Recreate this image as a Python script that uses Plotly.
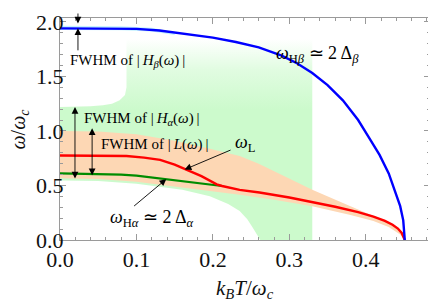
import plotly.graph_objects as go

# ---------------- data ----------------
T_blue = [0, 0.05, 0.1, 0.13, 0.16, 0.2, 0.23, 0.26, 0.29, 0.31, 0.33, 0.35, 0.37, 0.39,
          0.405, 0.418, 0.43, 0.438, 0.445, 0.449, 0.451]
W_blue = [1.94, 1.94, 1.935, 1.92, 1.895, 1.855, 1.815, 1.765, 1.69, 1.62, 1.53, 1.42, 1.28,
          1.10, 0.93, 0.78, 0.61, 0.46, 0.31, 0.18, 0.0]

T_red = [0, 0.05, 0.087, 0.11, 0.131, 0.15, 0.166, 0.185, 0.205, 0.212, 0.235, 0.261, 0.3,
         0.33, 0.36, 0.39, 0.41, 0.425, 0.435, 0.442, 0.447, 0.451]
W_red = [0.775, 0.775, 0.77, 0.755, 0.735, 0.69, 0.645, 0.585, 0.51, 0.495, 0.46, 0.435, 0.39,
         0.35, 0.305, 0.255, 0.215, 0.175, 0.14, 0.105, 0.065, 0.0]

T_green = [0, 0.05, 0.08, 0.1, 0.13, 0.16, 0.19, 0.212]
W_green = [0.61, 0.607, 0.6, 0.59, 0.565, 0.54, 0.515, 0.495]

T_Lup = [0, 0.05, 0.1, 0.15, 0.2, 0.235, 0.26, 0.3, 0.33, 0.38, 0.43, 0.445, 0.451]
W_Lup = [1.0, 0.995, 0.97, 0.91, 0.83, 0.77, 0.70, 0.56, 0.46, 0.31, 0.16, 0.08, 0.0]
T_Llo = [0, 0.05, 0.1, 0.13, 0.17, 0.2, 0.235, 0.28, 0.33, 0.38, 0.41, 0.43, 0.445, 0.451]
W_Llo = [0.565, 0.56, 0.535, 0.51, 0.47, 0.445, 0.415, 0.37, 0.31, 0.23, 0.175, 0.12, 0.05, 0.0]

# FWHM of H_alpha region outline
T_Ha = [0, 0.05, 0.1, 0.131, 0.16, 0.196, 0.22, 0.235, 0.245, 0.252, 0.258, 0.262,
        0.33, 0.33, 0.087, 0.087, 0.085, 0.078, 0.068, 0.056, 0.04, 0]
W_Ha = [0.545, 0.54, 0.515, 0.49, 0.46, 0.40, 0.33, 0.265, 0.19, 0.115, 0.05, 0.0,
        0.0, 1.85, 1.85, 1.40, 1.33, 1.28, 1.25, 1.235, 1.225, 1.22]

# FWHM of H_beta (thin halo)
T_Hb = [0, 0.04, 0.08, 0.12, 0.15]
W_Hb_up = [1.965, 1.964, 1.96, 1.945, 1.905]
W_Hb_lo = [1.925, 1.926, 1.922, 1.912, 1.88]

x_ticks = [0.0, 0.1, 0.2, 0.3, 0.4]
y_ticks = [0.0, 0.5, 1.0, 1.5, 2.0]

GREEN_FILL = "rgb(204,250,204)"
ORANGE_FILL = "rgb(253,215,180)"
SERIF = "Liberation Serif"

fig = go.Figure()

fig.add_trace(go.Scatter(
    x=T_Ha, y=W_Ha, mode="lines", fill="toself", line=dict(width=0),
    fillgradient=dict(type="vertical", start=0, stop=1.85,
                      colorscale=[[0, GREEN_FILL], [0.66, GREEN_FILL],
                                  [0.85, "rgba(204,250,204,0.6)"],
                                  [1, "rgba(204,250,204,0)"]]),
    hoverinfo="skip", showlegend=False))

fig.add_trace(go.Scatter(
    x=T_Lup + T_Llo[::-1], y=W_Lup + W_Llo[::-1], mode="lines", fill="toself",
    fillcolor=ORANGE_FILL, line=dict(width=0), hoverinfo="skip", showlegend=False))

fig.add_trace(go.Scatter(
    x=T_Hb + T_Hb[::-1], y=W_Hb_up + W_Hb_lo[::-1], mode="lines", fill="toself",
    fillcolor="rgba(120,225,255,0.45)", line=dict(width=0), hoverinfo="skip", showlegend=False))

fig.add_trace(go.Scatter(x=T_green, y=W_green, mode="lines",
                         line=dict(color="rgb(0,140,0)", width=2.2), showlegend=False))
fig.add_trace(go.Scatter(x=T_red, y=W_red, mode="lines",
                         line=dict(color="rgb(255,0,0)", width=2.4), showlegend=False))
fig.add_trace(go.Scatter(x=T_blue, y=W_blue, mode="lines",
                         line=dict(color="rgb(0,0,255)", width=2.4), showlegend=False))

ann_font = dict(family=SERIF, size=15, color="black")
big_font = dict(family=SERIF, size=18, color="black")

def arrow(x, y, ax, ay, both=False):
    d = dict(x=x, y=y, ax=ax, ay=ay, xref="x", yref="y", axref="x", ayref="y",
             text="", showarrow=True, arrowhead=2, arrowsize=1.5, arrowwidth=0.9,
             arrowcolor="black")
    if both:
        d.update(arrowside="end+start", startarrowhead=2, startarrowsize=1.5)
    return d

annotations = [
    dict(x=0.0105, y=1.64, xref="x", yref="y", xanchor="left", yanchor="middle",
         text="FWHM of\u00a0|\u2009<i>H</i><sub><i>β</i></sub>(<i>ω</i>)\u2009|", showarrow=False, font=ann_font),
    arrow(0.0235, 1.985, 0.0235, 2.09),
    arrow(0.0235, 1.94, 0.0235, 1.725),
    dict(x=0.029, y=1.106, xref="x", yref="y", xanchor="left", yanchor="middle",
         text="FWHM of\u00a0|\u2009<i>H</i><sub><i>α</i></sub>(<i>ω</i>)\u2009|", showarrow=False, font=ann_font),
    arrow(0.0196, 1.22, 0.0196, 0.55, both=True),
    dict(x=0.051, y=0.876, xref="x", yref="y", xanchor="left", yanchor="middle",
         text="FWHM of\u00a0|\u2009<i>L</i>(<i>ω</i>)\u2009|", showarrow=False, font=ann_font),
    arrow(0.042, 1.025, 0.042, 0.58, both=True),
    dict(x=0.242, y=0.885, xref="x", yref="y", xanchor="center", yanchor="middle",
         text="<i>ω</i><sub>L</sub>", showarrow=False, font=big_font),
    arrow(0.163, 0.646, 0.225, 0.83),
    dict(x=0.12, y=0.20, xref="x", yref="y", xanchor="center", yanchor="middle",
         text="<i>ω</i><sub>H<i>α</i></sub> ≃ 2 Δ<sub><i>α</i></sub>", showarrow=False, font=big_font),
    arrow(0.139, 0.558, 0.095, 0.30),
    dict(x=0.337, y=1.70, xref="x", yref="y", xanchor="center", yanchor="middle",
         text="<i>ω</i><sub>H<i>β</i></sub> ≃ 2 Δ<sub><i>β</i></sub>", showarrow=False, font=big_font),
    dict(x=0.5, y=-0.22, xref="paper", yref="paper", xanchor="center", yanchor="middle",
         text="<i>k</i><sub><i>B</i></sub><i>T</i>/<i>ω</i><sub><i>c</i></sub>", showarrow=False,
         font=dict(family=SERIF, size=21, color="#111")),
    dict(x=-0.112, y=0.5, xref="paper", yref="paper", xanchor="center", yanchor="middle",
         text="<i>ω</i>/<i>ω</i><sub><i>c</i></sub>", showarrow=False, textangle=-90,
         font=dict(family=SERIF, size=20, color="#111")),
]

axis_common = dict(
    showgrid=False, zeroline=False, showline=True, linecolor="#9a9a9a", linewidth=1,
    mirror="ticks", ticks="inside", ticklen=6, tickcolor="#9a9a9a", tickwidth=1,
    tickfont=dict(family=SERIF, size=22, color="#111"), ticklabeloverflow="allow",
)

# the page body has an 8px margin; the figure is sized/placed to compensate
fig.update_layout(
    width=428, height=293,
    margin=dict(l=52, r=6, t=2, b=61),
    paper_bgcolor="white", plot_bgcolor="white",
    font=dict(family=SERIF),
    annotations=annotations,
    xaxis=dict(range=[0, 0.484], tickvals=x_ticks, ticktext=[f"{v:.1f}" for v in x_ticks],
               minor=dict(dtick=0.02, ticks="inside", ticklen=3, tickcolor="#9a9a9a"),
               ticklabelstandoff=0, **axis_common),
    yaxis=dict(range=[0, 2.035], tickvals=y_ticks, ticktext=[f"{v:.1f}" for v in y_ticks],
               minor=dict(dtick=0.1, ticks="inside", ticklen=3, tickcolor="#9a9a9a"),
               ticklabelstandoff=-9, **axis_common),
)

fig.write_html("out.html")
